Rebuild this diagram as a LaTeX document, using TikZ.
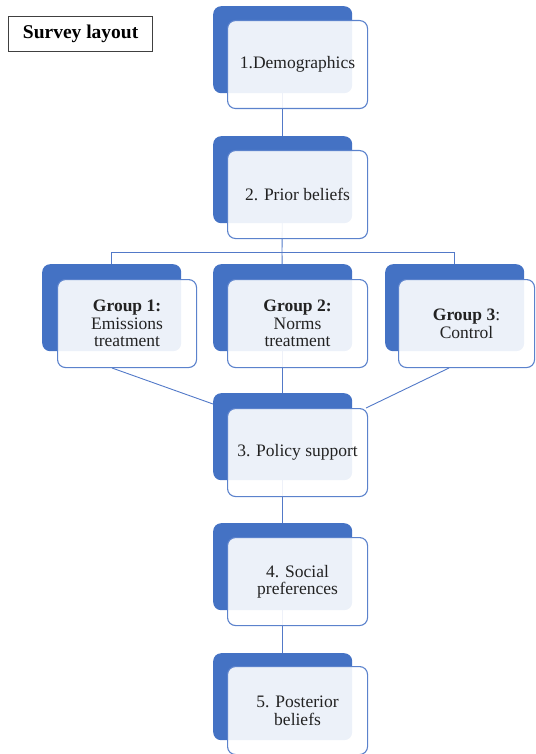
\documentclass[tikz,border=0pt]{standalone}
\usepackage{fontspec}
\setmainfont{Liberation Serif}
\definecolor{sblue}{HTML}{4472C4}
\definecolor{fblue}{HTML}{5B82CC}
\definecolor{lblue}{HTML}{5279C8}
\definecolor{txt}{HTML}{222222}
\pgfdeclarelayer{bg}
\pgfsetlayers{bg,main}
\begin{document}
\begin{tikzpicture}[x=1pt,y=-1pt,
  back/.style={draw=none, fill=sblue, rounded corners=8pt, minimum width=139pt, minimum height=87pt, anchor=north west, inner sep=0pt},
  front/.style={draw=fblue, line width=1.1pt, fill=white, fill opacity=0.9, draw opacity=1, text opacity=1, rounded corners=8pt, minimum width=140pt, minimum height=88pt, anchor=north west, align=center, font=\fontsize{17.5}{17.5}\selectfont, text=txt, inner sep=0pt},
  link/.style={draw=lblue, line width=0.9pt}]
\useasboundingbox (0,0) rectangle (535,754);
% back boxes
\node[back] (b1b) at (213,6) {};
\node[back] (b2b) at (213,136) {};
\node[back] (g1b) at (42,264) {};
\node[back] (g2b) at (213,264) {};
\node[back] (g3b) at (385,264) {};
\node[back] (b3b) at (213,393) {};
\node[back] (b4b) at (213,523) {};
\node[back] (b5b) at (213,653) {};
% connector points
\coordinate (hub) at (282,252);
\coordinate (g1out) at (112,368);
\coordinate (b3in) at (213,404);
\coordinate (g3out) at (449,368);
\coordinate (b3inr) at (366,408);
% connectors (behind the boxes)
\begin{pgfonlayer}{bg}
\draw[link] (b1b.center) -- (b2b.center);
\draw[link] (b2b.center) -- (hub);
\draw[link] (hub) -| (g1b.center);
\draw[link] (hub) -| (g3b.center);
\draw[link] (hub) -- (g2b.center);
\draw[link] (g2b.center) -- (b3b.center);
\draw[link] (g1out) -- (b3in);
\draw[link] (g3out) -- (b3inr);
\draw[link] (b3b.center) -- (b4b.center);
\draw[link] (b4b.center) -- (b5b.center);
\end{pgfonlayer}
% front boxes
\node[front] (b1f) at (227,20) {1.Demographics};
\node[front] (b2f) at (227,150) {2. Prior beliefs};
\node[front, minimum width=139pt] (g1f) at (57,279) {\textbf{Group 1:}\\Emissions\\treatment};
\node[front] (g2f) at (227,279) {\textbf{Group 2:}\\Norms\\treatment};
\node[front, minimum width=136pt] (g3f) at (398,279) {\textbf{Group 3}:\\Control};
\node[front] (b3f) at (227,408) {3. Policy support};
\node[front] (b4f) at (227,537) {4. Social\\preferences};
\node[front] (b5f) at (227,666) {5. Posterior\\beliefs};
% title
\node[draw=black!75, line width=1.2pt, minimum width=144pt, minimum height=35pt, anchor=north west, inner sep=0pt, text=black, font=\bfseries\fontsize{19.5}{20}\selectfont] (title) at (8,16) {Survey layout};
\end{tikzpicture}
\end{document}
